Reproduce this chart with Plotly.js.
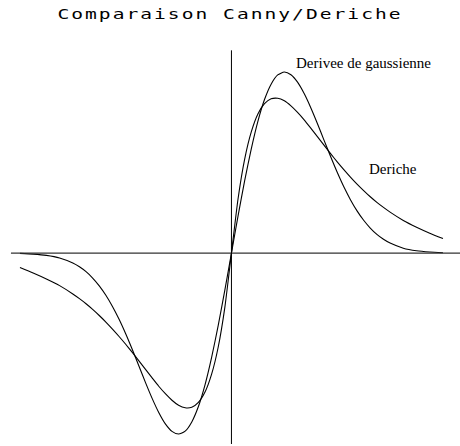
<!DOCTYPE html>
<html>
<head>
<meta charset="utf-8">
<script src="https://cdn.plot.ly/plotly-3.0.1.min.js"></script>
<style>
html,body{margin:0;padding:0;background:#fff;}
#chart{width:460px;height:446px;}
.gtitle{letter-spacing:1.5px;transform-box:fill-box;transform-origin:center;transform:scaleX(1.35);}
</style>
</head>
<body>
<div id="chart"></div>
<script>
// Sample positions (abscissa) and curve values (right half; left half is the mirror image)
const xPos = [0, 0.125, 0.25, 0.375, 0.5, 0.625, 0.75, 0.875, 1, 1.125, 1.25, 1.375, 1.5, 1.625, 1.75, 1.875,
              2, 2.125, 2.25, 2.375, 2.5, 2.625, 2.75, 2.875, 3, 3.25, 3.5, 3.75, 4];
const gaussPos = [0, 0.205, 0.40, 0.576, 0.728, 0.848, 0.933, 0.984, 1.00, 0.985, 0.944, 0.881, 0.803, 0.716, 0.624, 0.533,
                  0.446, 0.366, 0.295, 0.233, 0.181, 0.138, 0.103, 0.076, 0.055, 0.027, 0.013, 0.006, 0.002];
const derichePos = [0, 0.30, 0.519, 0.669, 0.768, 0.825, 0.852, 0.855, 0.841, 0.813, 0.777, 0.736, 0.690, 0.643, 0.596, 0.549,
                    0.504, 0.461, 0.420, 0.381, 0.345, 0.311, 0.280, 0.252, 0.226, 0.180, 0.143, 0.110, 0.080];
const titleText = "Comparaison Canny/Deriche";
const labelGauss = "Derivee de gaussienne";
const labelDeriche = "Deriche";

// build full (odd) series
const xs = [], gs = [], ds = [];
for (let i = xPos.length - 1; i > 0; i--) { xs.push(-xPos[i]); gs.push(-gaussPos[i]); ds.push(-derichePos[i]); }
for (let i = 0; i < xPos.length; i++) { xs.push(xPos[i]); gs.push(gaussPos[i]); ds.push(derichePos[i]); }

const line = {color: '#000', width: 1.1, shape: 'spline', smoothing: 0.6};
const traces = [
  {x: xs, y: gs, type: 'scatter', mode: 'lines', line: line, hoverinfo: 'skip'},
  {x: xs, y: ds, type: 'scatter', mode: 'lines', line: line, hoverinfo: 'skip'}
];

const layout = {
  width: 460, height: 446,
  margin: {l: 0, r: 0, t: 0, b: 0},
  paper_bgcolor: '#fff', plot_bgcolor: '#fff',
  showlegend: false,
  title: {text: titleText, x: 0.5, xanchor: 'center', y: 0.969, yanchor: 'middle', yref: 'container',
          font: {family: 'DejaVu Sans Mono', size: 14.5, color: '#000'}},
  xaxis: {range: [-4.377, 4.322], visible: false, fixedrange: true},
  yaxis: {range: [-1.066, 1.398], visible: false, fixedrange: true},
  shapes: [
    {type: 'line', xref: 'x', yref: 'y', x0: -4.17, x1: 4.322, y0: 0, y1: 0, line: {color: '#333', width: 1.2}},
    {type: 'line', xref: 'x', yref: 'y', x0: 0, x1: 0, y0: -1.055, y1: 1.12, line: {color: '#000', width: 1}}
  ],
  annotations: [
    {text: labelGauss, xref: 'x', yref: 'y', x: 1.18, y: 1.05, xanchor: 'left', yanchor: 'middle', showarrow: false,
     font: {family: 'Liberation Serif', size: 15, color: '#000'}},
    {text: labelDeriche, xref: 'x', yref: 'y', x: 2.56, y: 0.464, xanchor: 'left', yanchor: 'middle', showarrow: false,
     font: {family: 'Liberation Serif', size: 15, color: '#000'}}
  ]
};

Plotly.newPlot('chart', traces, layout, {staticPlot: true, displayModeBar: false});
</script>
</body>
</html>
